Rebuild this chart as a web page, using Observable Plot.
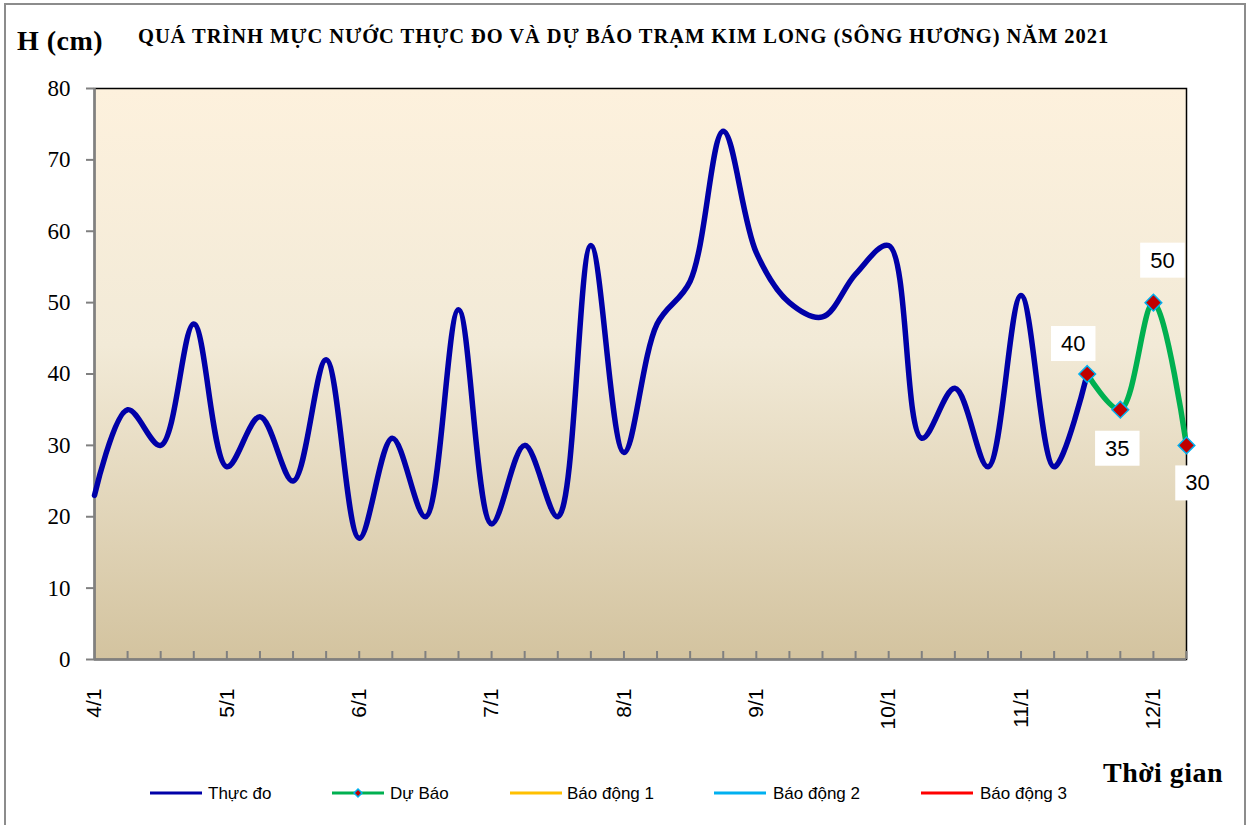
<!DOCTYPE html>
<html><head><meta charset="utf-8">
<script src="https://cdn.jsdelivr.net/npm/d3@7"></script>
<script src="https://cdn.jsdelivr.net/npm/@observablehq/plot@0.6"></script>
<style>
body{margin:0;background:#fff;}
#wrap{position:relative;width:1251px;height:825px;overflow:hidden;background:#fff;}
#border{position:absolute;left:4px;top:3px;width:1242px;height:840px;border:2px solid #8c8c8c;box-sizing:border-box;}
#chart{position:absolute;left:0;top:0;}
.t{position:absolute;white-space:nowrap;line-height:1;}
.serif{font-family:"Liberation Serif","Times New Roman",serif;font-weight:bold;color:#000;}
.sans{font-family:"Liberation Sans",Arial,sans-serif;color:#000;}
.sw{position:absolute;}
</style></head>
<body><div id="wrap"><div id="border"></div><div id="chart"></div></div>
<script>
// ---- data ----
const monthLabels = ["4/1","5/1","6/1","7/1","8/1","9/1","10/1","11/1","12/1"];
const pointsPerMonth = 4;
const thucDo = [23,35,30,47,27,34,25,42,17,31,20,49,19,30,20,58,29,47,53,74,57,50,48,54,58,31,38,27,51,27,40];
const duBao = [40,35,50,30];
const duBaoStart = 30;
const yTicks = [0,10,20,30,40,50,60,70,80];
const seriesNames = ["Thực đo","Dự Báo","Báo động 1","Báo động 2","Báo động 3"];
const seriesColors = ["#0000A8","#00B050","#FFC000","#00B0F0","#FF0000"];
const titleText = "QUÁ TRÌNH MỰC NƯỚC THỰC ĐO VÀ DỰ BÁO TRẠM KIM LONG (SÔNG HƯƠNG) NĂM  2021";
const yTitle = "H (cm)";
const xTitle = "Thời gian";

// ---- styling (label offsets in px) ----
const labelOffsets = [[-14,-30],[-3,39],[9,-42],[11,38]];
const serifFont = "Liberation Serif, Times New Roman, serif";
const sansFont = "Liberation Sans, Arial, sans-serif";

const observed = thucDo.map((v,i)=>({i, v}));
const forecast = duBao.map((v,k)=>({i: duBaoStart+k, v}));
const nPoints = duBaoStart + duBao.length;

const W = 1251, H = 825, mL = 94, mR = 65, mT = 88, mB = 166;
const frameH = H - mT - mB;

const defsMark = () => {
  const d = d3.create("svg:defs");
  const g = d.append("linearGradient").attr("id","bgGrad").attr("x1",0).attr("y1",0).attr("x2",0).attr("y2",1);
  [["0%","#FDF1DD"],["45%","#F2EAD7"],["100%","#D3C39F"]].forEach(([o,c])=>g.append("stop").attr("offset",o).attr("stop-color",c));
  return d.node();
};

const labelMarks = forecast.map((d,k)=>Plot.text([d],{
  x:"i", y:"v", text:d=>String(d.v), dx:labelOffsets[k][0], dy:labelOffsets[k][1],
  fontSize:22, fontFamily:sansFont, fill:"#000",
  textAnchor:"middle", lineAnchor:"middle", className:"dlabel"
}));

const plot = Plot.plot({
  width:W, height:H, marginLeft:mL, marginRight:mR, marginTop:mT, marginBottom:mB,
  style:{background:"transparent", overflow:"visible"},
  x:{domain:[0,nPoints-1]},
  y:{domain:[0,80]},
  marks:[
    defsMark,
    Plot.frame({fill:"url(#bgGrad)", stroke:"#000", strokeWidth:1.5}),
    Plot.tickX(d3.range(1,nPoints),{x:d=>d, stroke:"#808080", strokeWidth:2, insetTop:frameH-8}),
    Plot.ruleY([0],{stroke:"#808080", strokeWidth:2.5}),
    Plot.ruleX([0],{stroke:"#808080", strokeWidth:2.5}),
    Plot.axisY({ticks:yTicks, tickSize:8, tickPadding:16, stroke:"#808080", strokeWidth:2, fill:"#000",
      fontSize:23, fontFamily:serifFont, label:null}),
    Plot.axisX({ticks:d3.range(0,nPoints,pointsPerMonth), tickFormat:i=>monthLabels[i/pointsPerMonth],
      tickRotate:-90, tickSize:0, tickPadding:29, fontSize:21, fill:"#000",
      fontFamily:sansFont, label:null}),
    Plot.line(observed,{x:"i", y:"v", stroke:seriesColors[0], strokeWidth:5.5, curve:"catmull-rom"}),
    Plot.line(forecast,{x:"i", y:"v", stroke:seriesColors[1], strokeWidth:5.5, curve:"catmull-rom"}),
    Plot.dot(forecast,{x:"i", y:"v", symbol:"diamond2", r:7.5, fill:"#C00000", stroke:"#00B0F0", strokeWidth:1.5}),
    ...labelMarks
  ]
});
document.getElementById("chart").appendChild(plot);

// frame gradient fallback
d3.select(plot).selectAll('[aria-label="frame"]').attr("fill","url(#bgGrad)");
// white boxes behind data labels
plot.querySelectorAll(".dlabel text").forEach(function(t){
  const b = t.getBBox();
  const tr = t.getAttribute("transform");
  const r = document.createElementNS("http://www.w3.org/2000/svg","rect");
  r.setAttribute("x", b.x-10); r.setAttribute("y", b.y-5);
  r.setAttribute("width", b.width+20); r.setAttribute("height", b.height+10);
  r.setAttribute("fill","#fff");
  if (tr) r.setAttribute("transform", tr);
  t.parentNode.insertBefore(r, t);
});

// ---- texts & legend (HTML) ----
const wrap = document.getElementById("wrap");
function addText(txt, cls, left, baseline, fs, targetW){
  const el = document.createElement("div");
  el.className = "t " + cls;
  el.textContent = txt;
  el.style.fontSize = fs + "px";
  const asc = cls.includes("serif") ? 0.8375 : 0.8465;
  el.style.left = left + "px";
  el.style.top = (baseline - asc*fs) + "px";
  wrap.appendChild(el);
  if (targetW){
    const w = el.getBoundingClientRect().width;
    el.style.letterSpacing = ((targetW - w)/txt.length) + "px";
  }
  return el;
}
addText(titleText, "serif", 138, 43, 20.5, 972);
addText(yTitle, "serif", 17, 50, 28, 86);
addText(xTitle, "serif", 1103, 782, 28, 120);

const legendItems = [[150,208],[332,390],[510,567],[714,773],[921,980]];
legendItems.forEach(([sx,tx],k)=>{
  const svg = d3.create("svg").attr("class","sw").attr("width",54).attr("height",14)
    .style("left",sx+"px").style("top",(793-7)+"px");
  svg.append("line").attr("x1",0).attr("x2",52).attr("y1",7).attr("y2",7)
    .attr("stroke",seriesColors[k]).attr("stroke-width",3);
  if (k===1){
    svg.append("path").attr("d",d3.symbol(d3.symbolDiamond2, 40)()).attr("transform","translate(26,7)")
      .attr("fill","#C00000").attr("stroke","#00B0F0").attr("stroke-width",1.5);
  }
  wrap.appendChild(svg.node());
  addText(seriesNames[k], "sans", tx, 799, 17);
});
</script>
</body></html>
